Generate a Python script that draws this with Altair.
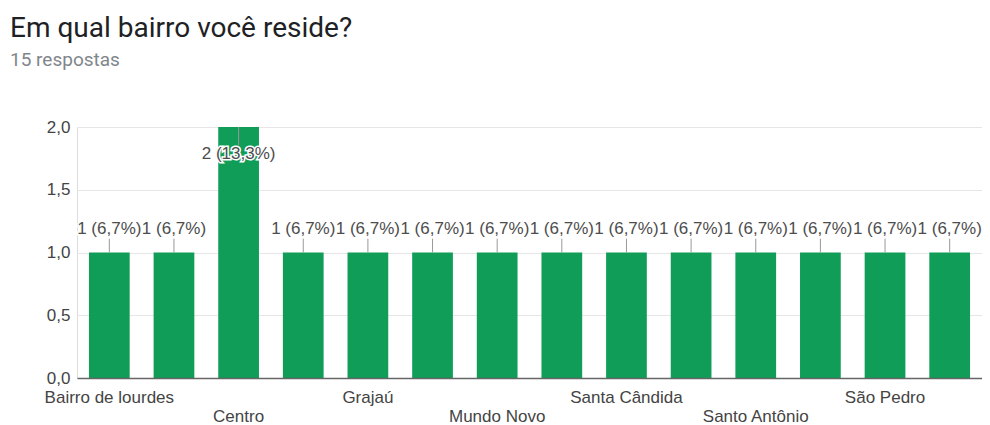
import json
import altair as alt
import pandas as pd

# Categories (only every other name is readable in the reference; hidden ones are placeholders)
bairros = [
    "Bairro de lourdes", "Bela Vista", "Centro", "Cidade Nova", "Grajaú",
    "Jardim América", "Mundo Novo", "Santa Bárbara", "Santa Cândida",
    "Santa Luzia", "Santo Antônio", "São José", "São Pedro", "Vila Nova",
]
respostas = [1, 1, 2, 1, 1, 1, 1, 1, 1, 1, 1, 1, 1, 1]
y_ticks = [0, 0.5, 1, 1.5, 2]

df = pd.DataFrame({"bairro": bairros, "respostas": respostas})

arr = json.dumps(bairros, ensure_ascii=False)
x_label_expr = (
    f"indexof({arr}, datum.value) % 4 == 0 ? datum.value : "
    f"(indexof({arr}, datum.value) % 4 == 2 ? ['', datum.value] : '')"
)
y_label_expr = "replace(format(datum.value, '.1f'), '.', ',')"

ymax = y_ticks[-1]
GREEN = "#0f9d58"
LABEL_FONT = "Liberation Sans"
FS = 17

x_enc = alt.X(
    "bairro:N",
    sort=bairros,
    scale=alt.Scale(paddingInner=0.37, paddingOuter=0.185),
    axis=alt.Axis(
        title=None, labelAngle=0, labelExpr=x_label_expr, labelOverlap=False,
        labelFontSize=FS, labelFont=LABEL_FONT, labelColor="#444444",
        labelPadding=11, labelLineHeight=19, labelLimit=0,
        ticks=False, grid=False, domain=True, domainColor="#666666",
        domainWidth=1.5, zindex=1,
    ),
)
y_scale = alt.Scale(domain=[0, ymax], nice=False)
y_axis = alt.Axis(
    title=None, values=y_ticks, labelExpr=y_label_expr, domain=False,
    ticks=False, gridColor="#e6e6e6", labelFontSize=FS, labelFont=LABEL_FONT,
    labelColor="#444444", labelPadding=7,
)

base = alt.Chart(df).transform_joinaggregate(
    total="sum(respostas)"
).transform_calculate(
    rotulo="datum.respostas + ' (' + replace(format(datum.respostas / datum.total, '.1%'), '.', ',') + ')'",
    fim=f"datum.respostas >= {ymax} ? datum.respostas - 0.145 : datum.respostas + 0.11",
    pos=f"datum.respostas >= {ymax} ? datum.respostas - 0.215 : datum.respostas + 0.19",
)

bars = base.mark_bar(color=GREEN).encode(
    x=x_enc,
    y=alt.Y("respostas:Q", scale=y_scale, axis=y_axis),
)

leaders = base.mark_rule(color="#999999", strokeWidth=1).encode(
    x=alt.X("bairro:N", sort=bairros),
    y=alt.Y("respostas:Q"),
    y2="fim:Q",
)

aura = base.mark_text(
    fontSize=FS, font=LABEL_FONT, baseline="middle", align="center",
    stroke="white", strokeWidth=3, fill="white",
).encode(
    x=alt.X("bairro:N", sort=bairros),
    y=alt.Y("pos:Q"),
    text="rotulo:N",
)

labels = base.mark_text(
    fontSize=FS, font=LABEL_FONT, baseline="middle", align="center",
    color="#4d4d4d",
).encode(
    x=alt.X("bairro:N", sort=bairros),
    y=alt.Y("pos:Q"),
    text="rotulo:N",
)

chart = alt.layer(bars, leaders, aura, labels).properties(
    width=905,
    height=251,
    autosize=alt.AutoSizeParams(type="none"),
    padding={"left": 69, "top": 119, "right": 0, "bottom": 46},
    title=alt.TitleParams(
        text="Em qual bairro você reside?",
        subtitle="15 respostas",
        anchor="start",
        frame="group",
        dx=-67,
        offset=48,
        font="Roboto",
        fontSize=28,
        fontWeight="normal",
        color="#202124",
        subtitleFont="Roboto",
        subtitleFontSize=19,
        subtitleColor="#80868b",
        subtitlePadding=8,
    ),
).configure_view(strokeWidth=0).configure(background="white")

chart.save("out.html", embed_options={"renderer": "svg", "actions": False})
